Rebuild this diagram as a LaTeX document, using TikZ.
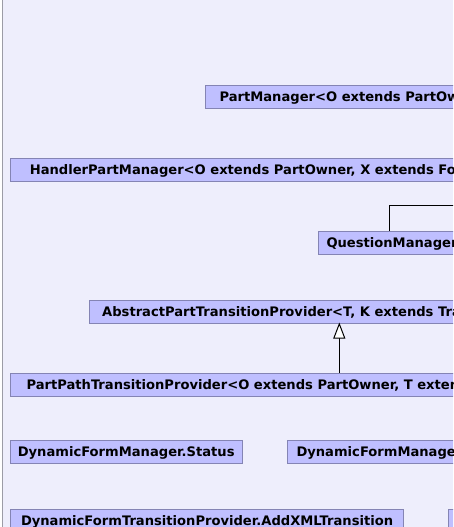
\documentclass[tikz,border=0pt]{standalone}
\usepackage{fontspec}
\newfontfamily\dejavu{DejaVu Sans}
\usetikzlibrary{arrows.meta}
\definecolor{bgcol}{RGB}{238,238,252}
\definecolor{boxfill}{RGB}{191,191,255}
\definecolor{boxline}{RGB}{132,132,180}
\definecolor{sideline}{RGB}{156,156,166}
\tikzset{
  classbox/.style={draw=boxline, fill=boxfill, line width=1pt, anchor=north west,
    minimum height=23pt, inner ysep=0pt, text height=9.5pt, text depth=0pt,
    font=\dejavu\bfseries\fontsize{13.1}{15}\selectfont},
  link/.style={draw=black, line width=1pt},
  inherit/.style={link, -{Triangle[open, fill=white, length=16pt, width=12pt]}}
}
\begin{document}
\begin{tikzpicture}[x=1pt, y=-1pt]
\useasboundingbox (0,0) rectangle (453,527);
\clip (0,0) rectangle (453,527);
\fill[white] (0,0) rectangle (453,527);
\fill[bgcol] (3,0) rectangle (453,527);
\draw[sideline, line width=1.2pt] (2.4,0) -- (2.4,527);

\node[classbox, inner xsep=14pt] (pm) at (205,84.5)
  {\makebox[387pt][l]{PartManager<O extends PartOwner>}};
\node[classbox, inner xsep=19.3pt] (hpm) at (10,158)
  {\makebox[571pt][l]{HandlerPartManager<O extends PartOwner, X extends Fo}};
\node[classbox, inner xsep=7.7pt] (qm) at (318.3,230.5)
  {\makebox[286pt][l]{QuestionManager}};
\node[classbox, inner xsep=12.4pt] (aptp) at (89.3,300)
  {\makebox[506pt][l]{AbstractPartTransitionProvider<T, K extends Tra}};
\node[classbox, inner xsep=16pt] (pptp) at (10,372.5)
  {\makebox[578pt][l]{PartPathTransitionProvider<O extends PartOwner, T extends}};
\node[classbox, inner xsep=7.3pt] (dfms) at (10,440)
  {\makebox[217.7pt][l]{DynamicFormManager.Status}};
\node[classbox, inner xsep=8.7pt] (dfm) at (287.3,440)
  {\makebox[310pt][l]{DynamicFormManager}};
\node[classbox, inner xsep=10.5pt] (addxml) at (10,508.5)
  {\makebox[371.5pt][l]{DynamicFormTransitionProvider.AddXMLTransition}};
\node[classbox, inner xsep=8pt] (other) at (448,508.5)
  {\makebox[200pt][l]{}};

\coordinate (qmjoint) at (389.3,230.5);
\coordinate (qmend) at (470,205.7);
\draw[link] (qmjoint) |- (qmend);

\coordinate (ppjoint) at (339.3,372.5);
\coordinate (apjoint) at (339.3,322.5);
\draw[inherit] (ppjoint) -- (apjoint);
\end{tikzpicture}
\end{document}
